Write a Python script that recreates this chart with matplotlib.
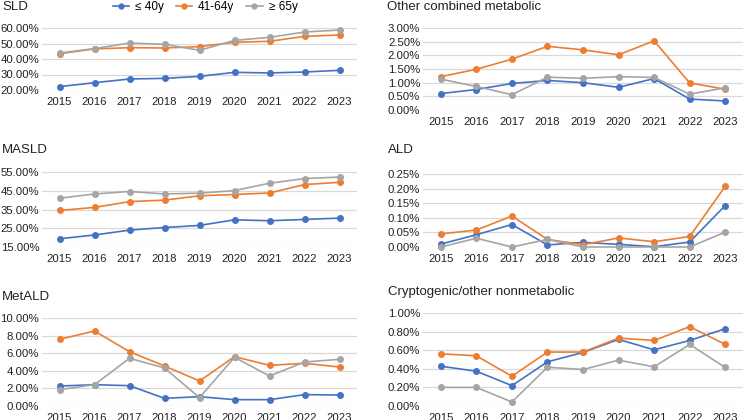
import matplotlib
matplotlib.use("Agg")
import matplotlib.pyplot as plt
from matplotlib.ticker import FuncFormatter
from matplotlib.lines import Line2D

plt.rcParams['font.family'] = ['Liberation Sans', 'DejaVu Sans']

years = [2015, 2016, 2017, 2018, 2019, 2020, 2021, 2022, 2023]
series_names = ["≤ 40y", "41-64y", "≥ 65y"]
colors = ["#4472C4", "#ED7D31", "#A5A5A5"]

sld_le40 = [22.2, 24.7, 27.1, 27.5, 28.8, 31.4, 31.0, 31.6, 32.7]
sld_41_64 = [43.4, 46.5, 47.3, 47.1, 48.0, 50.8, 51.4, 54.6, 55.5]
sld_ge65 = [43.9, 46.7, 50.3, 49.5, 45.6, 52.0, 54.0, 57.4, 58.7]

ocm_le40 = [0.60, 0.75, 0.97, 1.08, 1.00, 0.83, 1.15, 0.40, 0.33]
ocm_41_64 = [1.22, 1.49, 1.86, 2.33, 2.20, 2.02, 2.53, 0.99, 0.76]
ocm_ge65 = [1.13, 0.86, 0.56, 1.20, 1.16, 1.22, 1.19, 0.58, 0.81]

masld_le40 = [19.4, 21.4, 24.0, 25.4, 26.5, 29.5, 29.0, 29.7, 30.4]
masld_41_64 = [34.5, 36.1, 39.2, 40.0, 42.3, 43.0, 43.8, 48.3, 49.5]
masld_ge65 = [41.0, 43.3, 44.6, 43.3, 43.7, 45.1, 49.0, 51.5, 52.3]

ald_le40 = [0.010, 0.042, 0.077, 0.007, 0.016, 0.009, 0.001, 0.017, 0.142]
ald_41_64 = [0.045, 0.058, 0.106, 0.026, 0.008, 0.031, 0.018, 0.036, 0.208]
ald_ge65 = [0.0, 0.030, 0.0, 0.026, 0.0, 0.0, 0.0, 0.0, 0.051]

metald_le40 = [2.27, 2.42, 2.31, 0.87, 1.06, 0.72, 0.72, 1.29, 1.25]
metald_41_64 = [7.58, 8.52, 6.17, 4.55, 2.84, 5.61, 4.62, 4.85, 4.43]
metald_ge65 = [1.86, 2.42, 5.42, 4.32, 0.95, 5.53, 3.41, 5.00, 5.30]

crypt_le40 = [0.428, 0.374, 0.219, 0.475, 0.576, 0.716, 0.604, 0.705, 0.831]
crypt_41_64 = [0.561, 0.540, 0.320, 0.580, 0.580, 0.730, 0.705, 0.853, 0.662]
crypt_ge65 = [0.200, 0.200, 0.043, 0.417, 0.392, 0.493, 0.421, 0.662, 0.414]

W, H = 743, 420
fig = plt.figure(figsize=(W / 100, H / 100), dpi=100)


def add_panel(x0, x1, ytop, ybot, title, tx, tyb, data, yticks):
    ax = fig.add_axes([x0 / W, 1 - ybot / H, (x1 - x0) / W, (ybot - ytop) / H])
    xs = list(range(len(years)))
    for vals, c in zip(data, colors):
        ax.plot(xs, vals, color=c, lw=1.2, marker='o', ms=4, zorder=3,
                clip_on=False)
    ax.set_xlim(-0.5, len(years) - 0.5)
    ax.set_ylim(yticks[0], yticks[-1])
    ax.set_yticks(yticks)
    ax.set_xticks(xs)
    ax.set_xticklabels([str(y) for y in years])
    ax.yaxis.set_major_formatter(FuncFormatter(lambda v, p: f"{v:.2f}%"))
    for s in ax.spines.values():
        s.set_visible(False)
    ax.grid(axis='y', color='#D9D9D9', lw=0.9)
    ax.set_axisbelow(True)
    ax.tick_params(axis='both', length=0, labelsize=8.2, colors='#222222')
    ax.tick_params(axis='y', pad=2.0)
    ax.tick_params(axis='x', pad=5)
    fig.text(tx / W, 1 - tyb / H, title, fontsize=9.5, va='baseline',
             ha='left', color='#222222')
    return ax


add_panel(42, 357, 28, 90, "SLD", 2, 10.5,
          [sld_le40, sld_41_64, sld_ge65], [20, 30, 40, 50, 60])
add_panel(423, 743, 28, 110, "Other combined metabolic", 387, 10.5,
          [ocm_le40, ocm_41_64, ocm_ge65], [0, 0.5, 1.0, 1.5, 2.0, 2.5, 3.0])
add_panel(42, 357, 172, 247, "MASLD", 2, 153,
          [masld_le40, masld_41_64, masld_ge65], [15, 25, 35, 45, 55])
add_panel(423, 743, 174, 247, "ALD", 388, 153,
          [ald_le40, ald_41_64, ald_ge65], [0, 0.05, 0.10, 0.15, 0.20, 0.25])
add_panel(42, 357, 318, 406, "MetALD", 2, 300,
          [metald_le40, metald_41_64, metald_ge65], [0, 2, 4, 6, 8, 10])
add_panel(423, 743, 313, 406, "Cryptogenic/other nonmetabolic", 388, 295,
          [crypt_le40, crypt_41_64, crypt_ge65], [0, 0.2, 0.4, 0.6, 0.8, 1.0])

handles = [Line2D([0], [0], color=c, lw=1.2, marker='o', ms=3.5) for c in colors]
fig.legend(handles, series_names, loc='center', bbox_to_anchor=(205 / W, 1 - 7 / H),
           ncol=3, frameon=False, fontsize=8.5, handlelength=1.4,
           handletextpad=0.5, columnspacing=1.0, borderaxespad=0, borderpad=0)

fig.savefig("out.png", dpi=100)
